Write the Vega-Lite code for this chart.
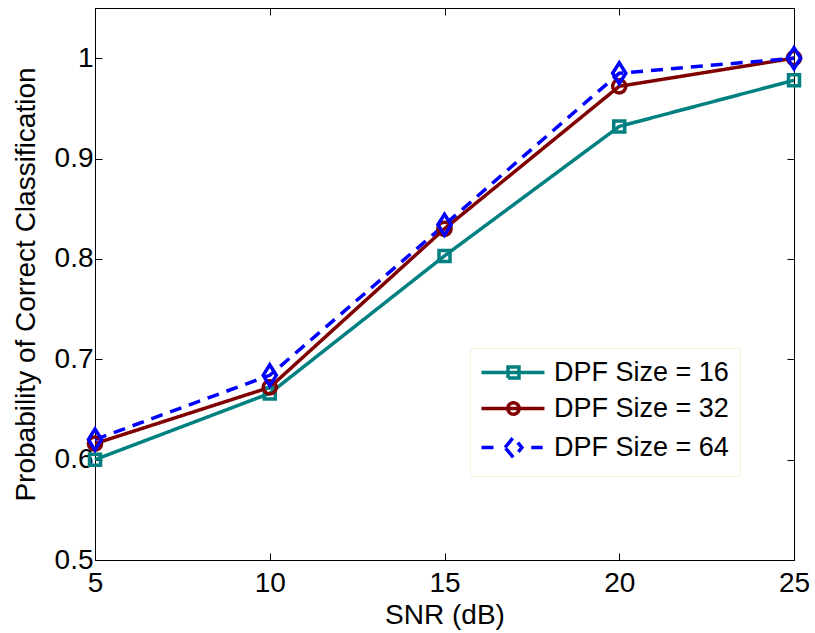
{
  "$schema": "https://vega.github.io/schema/vega-lite/v6.json",
  "width": 699,
  "height": 552,
  "autosize": {"type": "none"},
  "padding": {"left": 95, "top": 8, "right": 21, "bottom": 73},
  "background": "white",
  "config": {
    "font": "Liberation Sans",
    "view": {"stroke": "black", "strokeWidth": 1},
    "axis": {
      "grid": false,
      "domainColor": "black",
      "tickColor": "black",
      "labelColor": "black",
      "titleColor": "black",
      "labelFont": "Liberation Sans",
      "titleFont": "Liberation Sans",
      "labelFontSize": 28,
      "titleFontSize": 28,
      "titleFontWeight": "normal",
      "tickSize": -7,
      "labelFlush": false,
      "labelOverlap": false
    }
  },
  "data": {
    "values": [
      {"snr": 5, "p": 0.600, "series": "DPF Size = 16"},
      {"snr": 10, "p": 0.666, "series": "DPF Size = 16"},
      {"snr": 15, "p": 0.803, "series": "DPF Size = 16"},
      {"snr": 20, "p": 0.932, "series": "DPF Size = 16"},
      {"snr": 25, "p": 0.978, "series": "DPF Size = 16"},
      {"snr": 5, "p": 0.616, "series": "DPF Size = 32"},
      {"snr": 10, "p": 0.672, "series": "DPF Size = 32"},
      {"snr": 15, "p": 0.830, "series": "DPF Size = 32"},
      {"snr": 20, "p": 0.972, "series": "DPF Size = 32"},
      {"snr": 25, "p": 1.0, "series": "DPF Size = 32"},
      {"snr": 5, "p": 0.620, "series": "DPF Size = 64"},
      {"snr": 10, "p": 0.684, "series": "DPF Size = 64"},
      {"snr": 15, "p": 0.834, "series": "DPF Size = 64"},
      {"snr": 20, "p": 0.985, "series": "DPF Size = 64"},
      {"snr": 25, "p": 1.0, "series": "DPF Size = 64"}
    ]
  },
  "resolve": {"axis": {"x": "independent", "y": "independent"}},
  "layer": [
    {
      "mark": {"type": "line", "strokeWidth": 3.5},
      "encoding": {
        "x": {"field": "snr", "type": "quantitative", "scale": {"domain": [5, 25], "nice": false},
              "axis": {"values": [5, 10, 15, 20, 25], "title": "SNR (dB)", "labelPadding": 16, "titlePadding": 4}},
        "y": {"field": "p", "type": "quantitative", "scale": {"domain": [0.5, 1.05], "nice": false, "zero": false},
              "axis": {"values": [0.5, 0.6, 0.7, 0.8, 0.9, 1], "title": "Probability of Correct Classification",
                       "labelExpr": "datum.value == 1 ? '1' : format(datum.value, '.1f')", "labelPadding": 9, "titlePadding": 14}},
        "color": {"field": "series", "type": "nominal",
                  "scale": {"domain": ["DPF Size = 16", "DPF Size = 32", "DPF Size = 64"], "range": ["#008080", "#800000", "#0000ff"]}},
        "strokeDash": {"field": "series", "type": "nominal", "legend": null,
                  "scale": {"domain": ["DPF Size = 16", "DPF Size = 32", "DPF Size = 64"], "range": [[1, 0], [1, 0], [12, 8]]}}
      }
    },
    {
      "transform": [{"filter": {"field": "series", "equal": "DPF Size = 16"}}],
      "mark": {"type": "point", "filled": false, "strokeWidth": 3.5, "size": 400, "opacity": 1, "shape": "M-0.55,-0.55H0.55V0.55H-0.55Z"},
      "encoding": {
        "x": {"field": "snr", "type": "quantitative", "axis": null},
        "y": {"field": "p", "type": "quantitative", "axis": null},
        "color": {"field": "series", "type": "nominal"}
      }
    },
    {
      "transform": [{"filter": {"field": "series", "equal": "DPF Size = 32"}}],
      "mark": {"type": "point", "filled": false, "strokeWidth": 3.5, "size": 400, "opacity": 1, "shape": "M-0.66,0A0.66,0.66 0 1,0 0.66,0A0.66,0.66 0 1,0 -0.66,0Z"},
      "encoding": {
        "x": {"field": "snr", "type": "quantitative", "axis": null},
        "y": {"field": "p", "type": "quantitative", "axis": null},
        "color": {"field": "series", "type": "nominal"}
      }
    },
    {
      "transform": [{"filter": {"field": "series", "equal": "DPF Size = 64"}}],
      "mark": {"type": "point", "filled": false, "strokeWidth": 3.5, "size": 400, "opacity": 1, "shape": "M-0.66,0L0,-1.05L0.66,0L0,1.05Z"},
      "encoding": {
        "x": {"field": "snr", "type": "quantitative", "axis": null},
        "y": {"field": "p", "type": "quantitative", "axis": null},
        "color": {"field": "series", "type": "nominal"}
      }
    },
    {
      "transform": [{"filter": {"field": "series", "equal": "none"}}],
      "mark": {"type": "point", "filled": false, "strokeWidth": 3, "opacity": 1},
      "encoding": {
        "x": {"field": "snr", "type": "quantitative",
              "axis": {"orient": "top", "values": [5, 10, 15, 20, 25], "labels": false, "title": null, "domain": false}},
        "y": {"field": "p", "type": "quantitative",
              "axis": {"orient": "right", "values": [0.5, 0.6, 0.7, 0.8, 0.9, 1], "labels": false, "title": null, "domain": false}},
        "color": {"field": "series", "type": "nominal",
                  "legend": {"orient": "none", "legendX": 375, "legendY": 340, "title": null,
                             "labelFontSize": 27, "labelFont": "Liberation Sans", "labelColor": "black", "labelLimit": 400,
                             "symbolSize": 144, "symbolStrokeWidth": 3.5, "symbolFillColor": "transparent",
                             "labelOffset": 46, "padding": 11, "rowPadding": 8,
                             "strokeColor": "#fbeedd", "fillColor": "white", "cornerRadius": 0}},
        "shape": {"field": "series", "type": "nominal",
                  "scale": {"domain": ["DPF Size = 16", "DPF Size = 32", "DPF Size = 64"],
                            "range": ["M-2.17,0H8.33M2.25,-0.92H4.08V0.92H2.25Z",
                                      "M-2.17,0H8.33M2.21,0A0.95,0.95 0 1,0 4.11,0A0.95,0.95 0 1,0 2.21,0Z",
                                      "M-2.17,0H-0.17M6.13,0H8.03M1.76,0L3.16,-1.7L4.56,0L3.16,1.7Z"]},
                  "legend": {"orient": "none", "legendX": 375, "legendY": 340, "title": null,
                             "labelFontSize": 27, "labelFont": "Liberation Sans", "labelColor": "black", "labelLimit": 400,
                             "symbolSize": 144, "symbolStrokeWidth": 3.5, "symbolFillColor": "transparent",
                             "labelOffset": 46, "padding": 11, "rowPadding": 8,
                             "strokeColor": "#fbeedd", "fillColor": "white", "cornerRadius": 0}}
      }
    }
  ]
}
